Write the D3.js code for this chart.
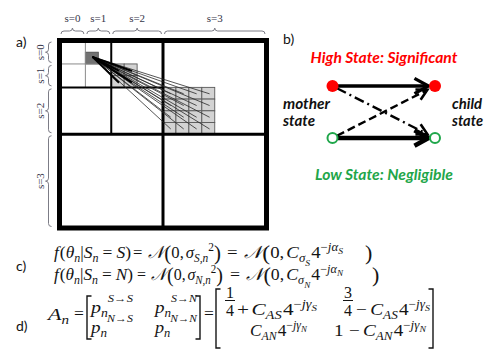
<!DOCTYPE html>
<html><head><meta charset="utf-8">
<script src="https://cdn.jsdelivr.net/npm/d3@7"></script>
<style>html,body{margin:0;padding:0;background:#fff;}svg{display:block;}</style>
</head><body>
<svg id="c" width="497" height="349"></svg>
<script>
// ---------- data ----------
const levelLabels = ["s=0", "s=1", "s=2", "s=3"];
const levelEdges = [0, 1/8, 1/4, 1/2, 1];
const fineGrid = 16;
const parentCell = [2, 1];              // [col,row] in the 1/16 grid
const stateNames = ["S", "N"];          // high / low
const stateTitles = ["High State: Significant", "Low State: Negligible"];
const nodeLabels = [["mother", "state"], ["child", "state"]];
const transitions = [
  {from: "S", to: "S", dash: null, w: 3.3},
  {from: "N", to: "N", dash: null, w: 4.6},
  {from: "N", to: "S", dash: "8,4", w: 2.4},
  {from: "S", to: "N", dash: "10,4,2,4", w: 2.4}
];
const panelLetters = ["a)", "b)", "c)", "d)"];

// ---------- setup ----------
const svg = d3.select("#c");
svg.append("rect").attr("width", 497).attr("height", 349).attr("fill", "#fff");
const SANS = "Lato, 'Open Sans', 'Noto Sans', sans-serif";
const SERIF = "'Liberation Serif', 'DejaVu Serif', serif";

const X = d3.scaleLinear().domain([0, 1]).range([59.5, 266.5]);
const Y = d3.scaleLinear().domain([0, 1]).range([40.5, 228]);
const cell = 1 / fineGrid;

function fitText(sel, target) {
  const w = sel.node().getComputedTextLength();
  const fs = parseFloat(sel.attr("font-size"));
  sel.attr("font-size", fs * target / w);
  return sel;
}

// ---------- panel a ----------
const ga = svg.append("g");
const kids = [], grand = [];
for (let i = 0; i < 2; i++) for (let j = 0; j < 2; j++) kids.push([2 * parentCell[0] + i, 2 * parentCell[1] + j]);
for (let i = 0; i < 4; i++) for (let j = 0; j < 4; j++) grand.push([4 * parentCell[0] + i, 4 * parentCell[1] + j]);
ga.selectAll("rect.k").data(kids.concat(grand)).join("rect")
  .attr("x", d => X(d[0] * cell)).attr("y", d => Y(d[1] * cell))
  .attr("width", X(cell) - X(0)).attr("height", Y(cell) - Y(0))
  .attr("fill", "#d3d3d3").attr("stroke", "#5a5a5a").attr("stroke-width", 0.9);
ga.append("rect")
  .attr("x", X(parentCell[0] * cell)).attr("y", Y(parentCell[1] * cell))
  .attr("width", X(cell) - X(0)).attr("height", Y(cell) - Y(0))
  .attr("fill", "#727272").attr("stroke", "#505050").attr("stroke-width", 0.9);

const splitStyle = {1: [1, "#8a8a8a"], 2: [2, "#000"], 3: [3, "#000"]};
[1, 2, 3].forEach(k => {
  const e = levelEdges[k];
  const [w, c] = splitStyle[k];
  ga.append("line").attr("x1", X(e)).attr("x2", X(e)).attr("y1", Y(0)).attr("y2", Y(2 * e))
    .attr("stroke", c).attr("stroke-width", w);
  ga.append("line").attr("y1", Y(e)).attr("y2", Y(e)).attr("x1", X(0)).attr("x2", X(2 * e))
    .attr("stroke", c).attr("stroke-width", w);
});
ga.append("rect").attr("x", X(0)).attr("y", Y(0)).attr("width", X(1) - X(0)).attr("height", Y(1) - Y(0))
  .attr("fill", "none").attr("stroke", "#000").attr("stroke-width", 5);

const pc = [X((parentCell[0] + 0.55) * cell), Y((parentCell[1] + 0.4) * cell)];
ga.selectAll("line.g").data(grand).join("line")
  .attr("x1", pc[0]).attr("y1", pc[1])
  .attr("x2", d => X((d[0] + 0.6) * cell)).attr("y2", d => Y((d[1] + 0.55) * cell))
  .attr("stroke", "#2a2a2a").attr("stroke-width", 0.8);
ga.selectAll("line.c").data(kids).join("line")
  .attr("x1", pc[0]).attr("y1", pc[1])
  .attr("x2", d => X((d[0] + 0.6) * cell)).attr("y2", d => Y((d[1] + 0.6) * cell))
  .attr("stroke", "#000").attr("stroke-width", 2);

function hBrace(x1, x2, y) {
  const m = (x1 + x2) / 2, r = 3;
  return `M${x1},${y + r} Q${x1},${y} ${x1 + r},${y} L${m - r},${y} Q${m},${y} ${m},${y - r} Q${m},${y} ${m + r},${y} L${x2 - r},${y} Q${x2},${y} ${x2},${y + r}`;
}
function vBrace(y1, y2, x) {
  const m = (y1 + y2) / 2, r = 3;
  return `M${x + r},${y1} Q${x},${y1} ${x},${y1 + r} L${x},${m - r} Q${x},${m} ${x - r},${m} Q${x},${m} ${x},${m + r} L${x},${y2 - r} Q${x},${y2} ${x + r},${y2}`;
}
const braceCol = "#7c7c86", labCol = "#353548";
levelLabels.forEach((lab, i) => {
  const a = levelEdges[i], b = levelEdges[i + 1];
  ga.append("path").attr("d", hBrace(X(a) + 1.5, X(b) - 1.5, 31)).attr("fill", "none")
    .attr("stroke", braceCol).attr("stroke-width", 1);
  ga.append("text").attr("x", (X(a) + X(b)) / 2).attr("y", 22).attr("text-anchor", "middle")
    .attr("font-family", SERIF).attr("font-size", 11).attr("fill", labCol).text(lab);
  ga.append("path").attr("d", vBrace(Y(a) + 1.5, Y(b) - 1.5, 48.5)).attr("fill", "none")
    .attr("stroke", braceCol).attr("stroke-width", 1);
  const cy = (Y(a) + Y(b)) / 2;
  ga.append("text").attr("transform", `translate(43.5,${cy}) rotate(-90)`).attr("text-anchor", "middle")
    .attr("font-family", SERIF).attr("font-size", 11).attr("fill", labCol).text(lab);
});
svg.append("text").attr("x", 16).attr("y", 47).attr("font-family", SANS).attr("font-size", 14)
  .attr("fill", "#111").text(panelLetters[0]);

// ---------- panel b ----------
const gb = svg.append("g");
gb.append("text").attr("x", 283).attr("y", 44).attr("font-family", SANS).attr("font-size", 14)
  .attr("fill", "#111").text(panelLetters[1]);
const sy = d3.scaleOrdinal().domain(stateNames).range([86, 138]);
const sx = d3.scaleOrdinal().domain(["mother", "child"]).range([332.5, 435]);
const red = "#ff0000", green = "#1fa64a";

function chevron(tx, ty, ang, L, half) {
  const a1 = ang + Math.PI - half, a2 = ang + Math.PI + half;
  return `M${tx + L * Math.cos(a1)},${ty + L * Math.sin(a1)} L${tx},${ty} L${tx + L * Math.cos(a2)},${ty + L * Math.sin(a2)}`;
}
transitions.forEach(t => {
  const x0 = sx("mother"), y0 = sy(t.from), x1 = sx("child"), y1 = sy(t.to);
  const ang = Math.atan2(y1 - y0, x1 - x0);
  const ux = Math.cos(ang), uy = Math.sin(ang);
  const tip = t.from === t.to ? 6.5 : 8.5;
  const tx = x1 - tip * ux, ty = y1 - tip * uy;
  const s0 = 5;
  gb.append("line").attr("x1", x0 + s0 * ux).attr("y1", y0 + s0 * uy)
    .attr("x2", tx - 2 * ux).attr("y2", ty - 2 * uy)
    .attr("stroke", "#000").attr("stroke-width", t.w).attr("stroke-dasharray", t.dash);
  const L = t.from === t.to ? 16 : 12;
  gb.append("path").attr("d", chevron(tx, ty, ang, L, 0.5)).attr("fill", "none")
    .attr("stroke", "#000").attr("stroke-width", t.from === t.to ? t.w : 2.6)
    .attr("stroke-linejoin", "miter").attr("stroke-linecap", "butt");
});
stateNames.forEach((s, i) => {
  ["mother", "child"].forEach(side => {
    gb.append("circle").attr("cx", sx(side)).attr("cy", sy(s)).attr("r", i === 0 ? 6 : 5)
      .attr("fill", i === 0 ? red : "#fff").attr("stroke", i === 0 ? red : green).attr("stroke-width", i === 0 ? 0 : 2);
  });
});
const titleY = [62.5, 179.5], titleW = [147, 138];
stateTitles.forEach((t, i) => {
  const el = gb.append("text").attr("x", 384).attr("y", titleY[i]).attr("text-anchor", "middle")
    .attr("font-family", SANS).attr("font-weight", "bold").attr("font-style", "italic")
    .attr("font-size", 14).attr("fill", i === 0 ? red : green).text(t);
  fitText(el, titleW[i]);
});
const nodeX = [283, 452], nodeW = [[47, 32], [30, 31]];
nodeLabels.forEach((lines, i) => {
  lines.forEach((l, j) => {
    const el = gb.append("text").attr("x", nodeX[i]).attr("y", 109 + 17 * j)
      .attr("font-family", SANS).attr("font-weight", "bold").attr("font-style", "italic")
      .attr("font-size", 14).attr("fill", "#111").text(l);
    fitText(el, nodeW[i][j]);
  });
});

// ---------- panels c, d (math) ----------
const KINDS = {
  i: {size: 17.5, dy: 0, st: "italic"},
  r: {size: 17.5, dy: 0, st: "normal"},
  si: {size: 12, dy: 4, st: "italic"},
  ssi: {size: 9, dy: 7.5, st: "italic"},
  pr: {size: 12, dy: -7.5, st: "normal"},
  pi: {size: 12, dy: -7.5, st: "italic"},
  psi: {size: 9, dy: -4.5, st: "italic"},
  pm: {size: 11, dy: -11, st: "italic"},
  L: {size: 22, dy: 1.5, st: "normal"}
};
const mathCol = "#141414";
function typeset(x0, y0, tokens, targetW) {
  const g = svg.append("g").attr("font-family", SERIF).attr("fill", mathCol);
  let x = 0;
  tokens.forEach(([t, k]) => {
    if (k === "sp") { x += t; return; }
    const s = KINDS[k];
    const el = g.append("text").attr("x", x).attr("y", s.dy).attr("font-size", s.size)
      .attr("font-style", s.st).text(t);
    x += el.node().getComputedTextLength();
  });
  const f = targetW ? Math.max(0.7, Math.min(1.3, targetW / x)) : 1;
  g.attr("transform", `translate(${x0},${y0}) scale(${f},1)`);
  return g;
}
const NN = "\u{1D4A9}";
function eqLine(st, y, xs) {
  typeset(xs[0], y, [["f", "i"], [1, "sp"], ["(", "r"], ["θ", "i"], ["n", "si"], ["|", "r"], ["S", "i"], ["n", "si"],
    [4, "sp"], ["=", "r"], [4, "sp"], [st, "i"], [")", "r"]], xs[1] - xs[0]);
  typeset(xs[2], y, [["=", "r"], [6, "sp"], [NN, "i"], ["(", "L"], ["0,", "r"], [2, "sp"], ["σ", "i"], [st + ",n", "si"],
    ["2", "pr"], [")", "L"]], xs[3] - xs[2]);
  typeset(xs[4], y, [["=", "r"], [6, "sp"], [NN, "i"], ["(", "L"], ["0,", "r"], [2, "sp"], ["C", "i"], ["σ", "si"],
    [st, "ssi"], [1, "sp"], ["4", "r"], ["−", "pr"], ["j", "pi"], ["α", "pi"], [st, "psi"]], xs[5] - xs[4]);
  typeset(xs[6], y, [[")", "L"]]);
}
eqLine("S", 258, [54, 131, 133, 221, 227, 343, 365]);
eqLine("N", 280, [54, 133, 137, 223, 230, 343, 372]);
svg.append("text").attr("x", 16).attr("y", 271).attr("font-family", SANS).attr("font-size", 14)
  .attr("fill", "#111").text(panelLetters[2]);
svg.append("text").attr("x", 16).attr("y", 331).attr("font-family", SANS).attr("font-size", 14)
  .attr("fill", "#111").text(panelLetters[3]);

typeset(48, 320, [["A", "i"], ["n", "si"]], 21);
typeset(74, 319, [["=", "r"]]);
function bracket(x, y1, y2, dir) {
  const s = 4.5 * dir;
  svg.append("path").attr("d", `M${x + s},${y1} L${x},${y1} L${x},${y2} L${x + s},${y2}`)
    .attr("fill", "none").attr("stroke", mathCol).attr("stroke-width", 1.4);
}
bracket(87, 296, 339, 1);
bracket(200, 296, 339, -1);
const arrowsM = [["S→S", "S→N"], ["N→S", "N→N"]];
const rowY1 = [313, 333];
arrowsM.forEach((row, r) => {
  row.forEach((lab, c) => {
    typeset(c === 0 ? 91 : 155, rowY1[r], [["p", "i"], ["n", "si"], [lab, "pm"]], 42);
  });
});
typeset(204, 319, [["=", "r"]]);
bracket(216, 289, 348, 1);
bracket(433, 289, 348, -1);
[[230, "1"], [348, "3"]].forEach(([cx, num]) => {
  svg.append("text").attr("x", cx).attr("y", 297.5).attr("text-anchor", "middle").attr("font-family", SERIF)
    .attr("font-size", 16).attr("fill", mathCol).text(num);
  svg.append("line").attr("x1", cx - 5).attr("x2", cx + 5).attr("y1", 300.5).attr("y2", 300.5)
    .attr("stroke", mathCol).attr("stroke-width", 1);
  svg.append("text").attr("x", cx).attr("y", 316).attr("text-anchor", "middle").attr("font-family", SERIF)
    .attr("font-size", 16).attr("fill", mathCol).text("4");
});
const cpow = (st) => [["C", "i"], ["A" + st, "si"], [1, "sp"], ["4", "r"], ["−", "pr"], ["j", "pi"], ["γ", "pi"], [st, "psi"]];
typeset(237, 315, [["+", "r"], [2, "sp"]].concat(cpow("S")), 80);
typeset(356, 315, [["−", "r"], [3, "sp"]].concat(cpow("S")), 74);
typeset(250, 336, cpow("N"), 57);
typeset(334, 336, [["1", "r"], [5, "sp"], ["−", "r"], [3, "sp"]].concat(cpow("N")), 92);
</script>
</body></html>
